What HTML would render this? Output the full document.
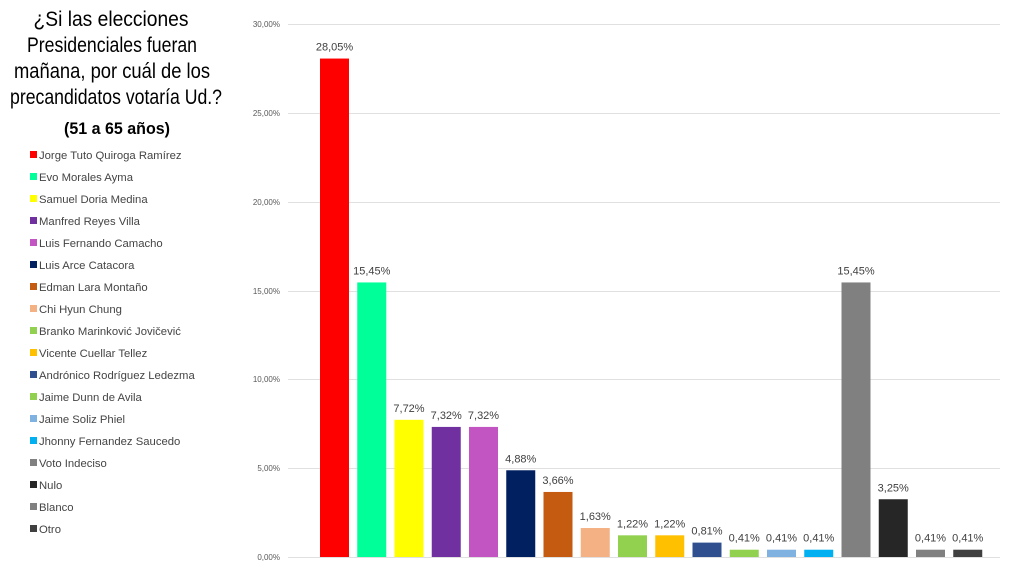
<!DOCTYPE html>
<html><head><meta charset="utf-8"><style>
body{margin:0;background:#fff;width:1023px;height:573px;overflow:hidden;font-family:"Liberation Sans",sans-serif}
</style></head><body>
<svg width="1023" height="573" xmlns="http://www.w3.org/2000/svg" font-family="Liberation Sans, DejaVu Sans, sans-serif">
<g font-size="21" text-anchor="middle" fill="#000">
<text x="111" y="26" textLength="155" lengthAdjust="spacingAndGlyphs">¿Si las elecciones</text>
<text x="112" y="52" textLength="170" lengthAdjust="spacingAndGlyphs">Presidenciales fueran</text>
<text x="112" y="78" textLength="196" lengthAdjust="spacingAndGlyphs">mañana, por cuál de los</text>
<text x="116" y="104" textLength="212" lengthAdjust="spacingAndGlyphs">precandidatos votaría Ud.?</text>
<text x="117" y="134" font-weight="bold" font-size="17" textLength="106" lengthAdjust="spacingAndGlyphs">(51 a 65 años)</text>
</g>
<g font-size="11.3" fill="#444">
<rect x="30" y="151" width="7" height="7" fill="#ff0000"/><text x="39" y="159">Jorge Tuto Quiroga Ramírez</text>
<rect x="30" y="173" width="7" height="7" fill="#00ff99"/><text x="39" y="181">Evo Morales Ayma</text>
<rect x="30" y="195" width="7" height="7" fill="#ffff00"/><text x="39" y="203">Samuel Doria Medina</text>
<rect x="30" y="217" width="7" height="7" fill="#7030a0"/><text x="39" y="225">Manfred Reyes Villa</text>
<rect x="30" y="239" width="7" height="7" fill="#c355c3"/><text x="39" y="247">Luis Fernando Camacho</text>
<rect x="30" y="261" width="7" height="7" fill="#002060"/><text x="39" y="269">Luis Arce Catacora</text>
<rect x="30" y="283" width="7" height="7" fill="#c55a11"/><text x="39" y="291">Edman Lara Montaño</text>
<rect x="30" y="305" width="7" height="7" fill="#f4b183"/><text x="39" y="313">Chi Hyun Chung</text>
<rect x="30" y="327" width="7" height="7" fill="#92d050"/><text x="39" y="335">Branko Marinković Jovičević</text>
<rect x="30" y="349" width="7" height="7" fill="#ffc000"/><text x="39" y="357">Vicente Cuellar Tellez</text>
<rect x="30" y="371" width="7" height="7" fill="#2f4f8f"/><text x="39" y="379">Andrónico Rodríguez Ledezma</text>
<rect x="30" y="393" width="7" height="7" fill="#92d050"/><text x="39" y="401">Jaime Dunn de Avila</text>
<rect x="30" y="415" width="7" height="7" fill="#7fb2e0"/><text x="39" y="423">Jaime Soliz Phiel</text>
<rect x="30" y="437" width="7" height="7" fill="#00b0f0"/><text x="39" y="445">Jhonny Fernandez Saucedo</text>
<rect x="30" y="459" width="7" height="7" fill="#808080"/><text x="39" y="467">Voto Indeciso</text>
<rect x="30" y="481" width="7" height="7" fill="#262626"/><text x="39" y="489">Nulo</text>
<rect x="30" y="503" width="7" height="7" fill="#808080"/><text x="39" y="511">Blanco</text>
<rect x="30" y="525" width="7" height="7" fill="#404040"/><text x="39" y="533">Otro</text>
</g>
<g stroke="#e0e0e0" stroke-width="1">
<line x1="288" x2="1000" y1="24.5" y2="24.5"/><line x1="288" x2="1000" y1="113.5" y2="113.5"/>
<line x1="288" x2="1000" y1="202.5" y2="202.5"/><line x1="288" x2="1000" y1="291.5" y2="291.5"/>
<line x1="288" x2="1000" y1="379.5" y2="379.5"/><line x1="288" x2="1000" y1="468.5" y2="468.5"/>
<line x1="288" x2="1000" y1="557.5" y2="557.5"/>
</g>
<g font-size="8" fill="#595959" text-anchor="end">
<text x="280" y="27">30,00%</text><text x="280" y="116">25,00%</text><text x="280" y="205">20,00%</text>
<text x="280" y="294">15,00%</text><text x="280" y="382">10,00%</text><text x="280" y="471">5,00%</text><text x="280" y="560">0,00%</text>
</g>
<g>
<rect x="320" y="58.55" width="29" height="498.45" fill="#ff0000"/>
<rect x="357.25" y="282.45" width="29" height="274.55" fill="#00ff99"/>
<rect x="394.5" y="419.82" width="29" height="137.18" fill="#ffff00"/>
<rect x="431.75" y="426.92" width="29" height="130.08" fill="#7030a0"/>
<rect x="469" y="426.92" width="29" height="130.08" fill="#c355c3"/>
<rect x="506.25" y="470.28" width="29" height="86.72" fill="#002060"/>
<rect x="543.5" y="491.96" width="29" height="65.04" fill="#c55a11"/>
<rect x="580.75" y="528.03" width="29" height="28.97" fill="#f4b183"/>
<rect x="618" y="535.32" width="29" height="21.68" fill="#92d050"/>
<rect x="655.25" y="535.32" width="29" height="21.68" fill="#ffc000"/>
<rect x="692.5" y="542.61" width="29" height="14.39" fill="#2f4f8f"/>
<rect x="729.75" y="549.71" width="29" height="7.29" fill="#92d050"/>
<rect x="767" y="549.71" width="29" height="7.29" fill="#7fb2e0"/>
<rect x="804.25" y="549.71" width="29" height="7.29" fill="#00b0f0"/>
<rect x="841.5" y="282.45" width="29" height="274.55" fill="#808080"/>
<rect x="878.75" y="499.25" width="29" height="57.75" fill="#262626"/>
<rect x="916" y="549.71" width="29" height="7.29" fill="#808080"/>
<rect x="953.25" y="549.71" width="29" height="7.29" fill="#404040"/>
</g>
<g font-size="11" fill="#404040" text-anchor="middle">
<text x="334.5" y="50.5">28,05%</text>
<text x="371.75" y="274.5">15,45%</text>
<text x="409" y="411.8">7,72%</text>
<text x="446.25" y="418.9">7,32%</text>
<text x="483.5" y="418.9">7,32%</text>
<text x="520.75" y="462.3">4,88%</text>
<text x="558" y="484">3,66%</text>
<text x="595.25" y="520">1,63%</text>
<text x="632.5" y="527.3">1,22%</text>
<text x="669.75" y="527.3">1,22%</text>
<text x="707" y="534.6">0,81%</text>
<text x="744.25" y="541.7">0,41%</text>
<text x="781.5" y="541.7">0,41%</text>
<text x="818.75" y="541.7">0,41%</text>
<text x="856" y="274.5">15,45%</text>
<text x="893.25" y="491.3">3,25%</text>
<text x="930.5" y="541.7">0,41%</text>
<text x="967.75" y="541.7">0,41%</text>
</g>
</svg>
</body></html>
